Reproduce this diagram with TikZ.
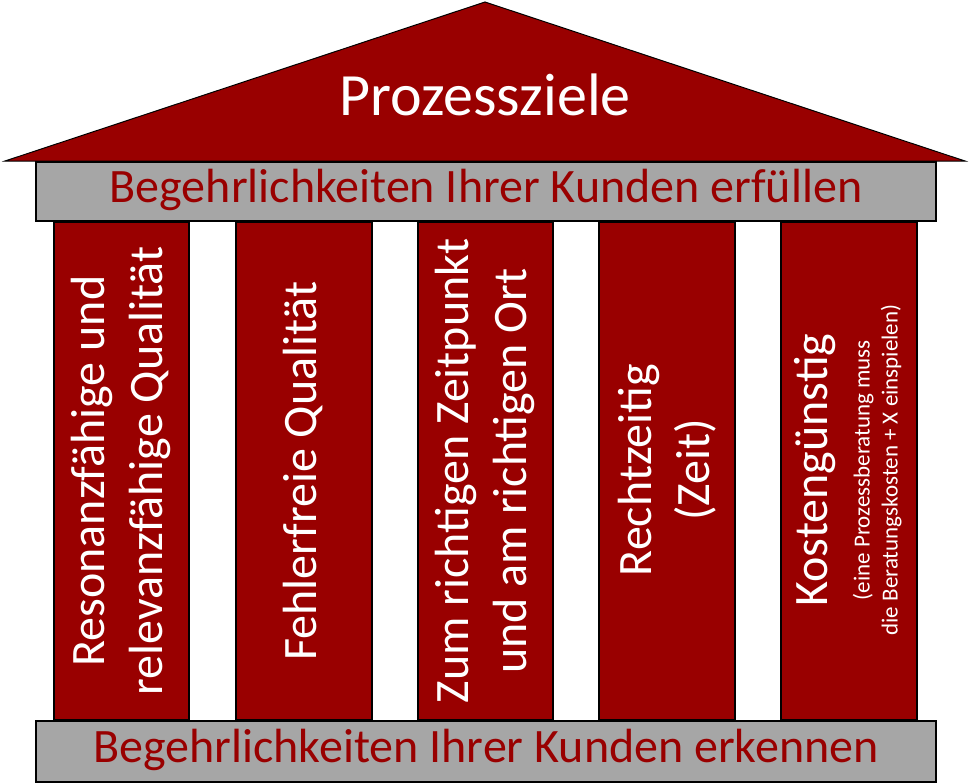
\documentclass[tikz,border=0pt]{standalone}
\usepackage{fontspec}
\setmainfont{Carlito}
\definecolor{dred}{HTML}{990000}
\definecolor{bargray}{HTML}{A6A6A6}
\begin{document}
\begin{tikzpicture}[x=1pt,y=-1pt,
  pillar/.style={draw=black,line width=1.2pt,fill=dred},
  bar/.style={draw=black,line width=1.2pt,fill=bargray},
  ptext/.style={text=white,rotate=90,align=center,font=\fontsize{48}{58}\selectfont}]
\useasboundingbox (0,0) rectangle (970,784);
\fill[dred,draw=black,line width=1pt] (5,161) -- (485,2) -- (965,161) -- cycle;
\node[text=white,font=\fontsize{60}{66}\selectfont] (roof) at (485,95) {Prozessziele};
\draw[bar] (36,162) rectangle (936,221);
\node[text=dred,font=\fontsize{48}{52}\selectfont] (top) at (486,190) {Begehrlichkeiten Ihrer Kunden erfüllen};
\foreach \a/\b/\n in {54/189/p1,236/372/p2,418/553/p3,599/735/p4,781/917/p5}{
  \draw[pillar] (\a,222) rectangle (\b,720);
}
\node[ptext] (t1) at (121,471) {Resonanzfähige und\\relevanzfähige Qualität};
\node[ptext] (t2) at (303,471) {Fehlerfreie Qualität};
\node[ptext] (t3) at (485,471) {Zum richtigen Zeitpunkt\\und am richtigen Ort};
\node[ptext] (t4) at (667,470) {Rechtzeitig\\(Zeit)};
\node[ptext] (t5) at (848,470) {Kostengünstig\\[-16pt]{\fontsize{23}{25}\selectfont (eine Prozessberatung muss}\\[-30pt]{\fontsize{23}{25}\selectfont die Beratungskosten + X einspielen)}};
\draw[bar] (36,721) rectangle (936,782);
\node[text=dred,font=\fontsize{48}{52}\selectfont] (bot) at (486,750) {Begehrlichkeiten Ihrer Kunden erkennen};
\end{tikzpicture}
\end{document}
